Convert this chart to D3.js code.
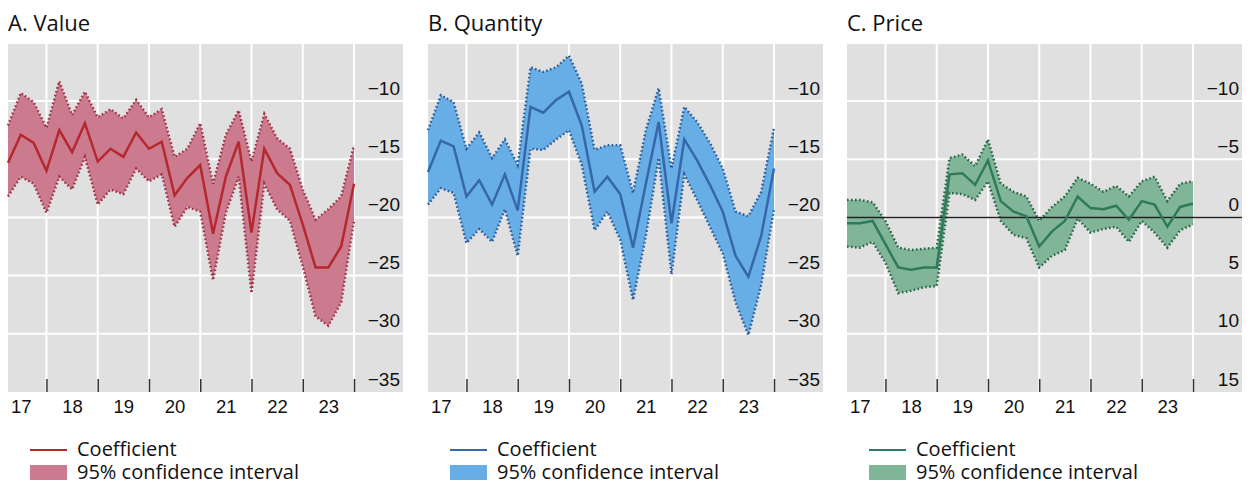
<!DOCTYPE html>
<html>
<head>
<meta charset="utf-8">
<script src="https://cdn.jsdelivr.net/npm/d3@7"></script>
<style>
    body { margin: 0; background: #fff; }
    svg { font-family: 'Open Sans', 'Noto Sans', sans-serif; }
</style>
</head>
<body>
<svg width="1252" height="484"></svg>
<script>
var quarters = ['2017Q1', '2017Q2', '2017Q3', '2017Q4', '2018Q1', '2018Q2', '2018Q3', '2018Q4',
    '2019Q1', '2019Q2', '2019Q3', '2019Q4', '2020Q1', '2020Q2', '2020Q3', '2020Q4',
    '2021Q1', '2021Q2', '2021Q3', '2021Q4', '2022Q1', '2022Q2', '2022Q3', '2022Q4',
    '2023Q1', '2023Q2', '2023Q3', '2023Q4'];
var yearLabels = ['17', '18', '19', '20', '21', '22', '23'];
var yearBreaks = [2018, 2019, 2020, 2021, 2022, 2023, 2024];

var valueCoef = [-15.3, -12.9, -13.6, -16.0, -12.5, -14.4, -11.9, -15.2, -14.1, -14.8, -12.7, -14.1, -13.5, -18.1,
    -16.6, -15.5, -21.4, -16.5, -13.5, -21.3, -14.1, -16.2, -17.2, -20.6, -24.3, -24.3, -22.5, -17.1];
var valueUpper = [-12.1, -9.3, -10.1, -12.3, -8.3, -11.2, -9.2, -11.4, -10.7, -11.5, -9.9, -11.4, -10.7, -14.8,
    -14.1, -11.9, -17.1, -12.9, -10.8, -15.2, -11.1, -13.2, -14.1, -17.6, -20.2, -19.3, -18.2, -13.8];
var valueLower = [-18.2, -16.5, -17.1, -19.6, -16.5, -17.6, -14.8, -18.9, -17.6, -18.0, -15.8, -16.9, -16.3, -20.8,
    -19.1, -19.5, -25.4, -19.6, -16.5, -26.5, -17.1, -19.3, -20.3, -24.2, -28.5, -29.3, -27.3, -20.3];

var quantityCoef = [-16.1, -13.4, -13.9, -18.2, -16.8, -18.9, -16.3, -19.4, -10.5, -11.0, -9.9, -9.2, -12.1, -17.8,
    -16.5, -18.0, -22.6, -17.1, -11.8, -20.5, -13.3, -15.1, -17.2, -19.5, -23.3, -25.1, -21.6, -15.8];
var quantityUpper = [-12.5, -9.5, -10.1, -14.1, -12.7, -14.9, -13.3, -15.5, -7.1, -7.5, -7.1, -6.1, -8.5, -14.2,
    -13.8, -13.8, -17.9, -12.5, -8.9, -15.8, -10.5, -11.8, -13.6, -15.8, -19.5, -19.9, -17.8, -12.3];
var quantityLower = [-18.9, -17.5, -17.9, -22.2, -21.0, -22.1, -19.3, -23.3, -14.1, -14.2, -13.3, -12.5, -15.5, -21.1,
    -19.5, -21.9, -27.1, -21.6, -14.9, -24.9, -16.3, -18.5, -20.8, -23.1, -27.3, -30.1, -25.8, -19.3];

var priceCoef = [0.5, 0.5, 0.3, 2.3, 4.3, 4.5, 4.3, 4.3, -3.7, -3.8, -2.8, -4.9, -1.4, -0.5,
    -0.1, 2.5, 1.2, 0.3, -1.8, -0.8, -0.7, -1.0, 0.2, -1.4, -1.1, 0.8, -0.9, -1.2];
var priceUpper = [-1.5, -1.5, -1.3, 0.3, 2.6, 2.8, 2.7, 2.6, -5.1, -5.4, -4.4, -6.7, -2.9, -2.2,
    -1.8, 0.3, -0.9, -1.8, -3.4, -2.9, -2.2, -2.7, -1.8, -3.1, -3.5, -1.4, -2.9, -3.1];
var priceLower = [2.5, 2.6, 2.1, 3.9, 6.5, 6.3, 6.0, 5.9, -2.1, -2.0, -1.5, -3.1, 0.3, 1.5,
    1.8, 4.3, 3.3, 2.8, 0.1, 1.3, 1.0, 0.8, 2.1, 0.3, 1.3, 2.6, 1.1, 0.6];

var ticksValue = [-10, -15, -20, -25, -30, -35];
var ticksPrice = [-10, -5, 0, 5, 10, 15];

var svg = d3.select('svg'),
    plotTop = 44,
    plotBottom = 392,
    plotWidth = 395;

function quarterEnd(q) {
    return +q.slice(0, 4) + (+q.slice(5)) / 4;
}

function Panel(left, title, coef, upper, lower, yDomain, yTicks, colors, zeroLine) {
    var g = svg.append('g').attr('transform', 'translate(' + left + ',0)'),
        x = d3.scaleLinear().domain([2017.25, 2024.956]).range([0, plotWidth]),
        y = d3.scaleLinear().domain(yDomain).range([plotBottom, plotTop]),
        rows = quarters.map(function (q, i) {
            return { t: quarterEnd(q), c: coef[i], u: upper[i], l: lower[i] };
        });

    g.append('rect')
        .attr('x', 0)
        .attr('y', plotTop)
        .attr('width', plotWidth)
        .attr('height', plotBottom - plotTop)
        .attr('fill', '#e0e0e0');

    g.selectAll('.hgrid')
        .data(yTicks.filter(function (v) { return Math.abs(y(v) - plotBottom) > 2; }))
        .enter().append('line')
        .attr('x1', 0)
        .attr('x2', plotWidth)
        .attr('y1', function (d) { return y(d); })
        .attr('y2', function (d) { return y(d); })
        .attr('stroke', '#fff')
        .attr('stroke-width', 2);

    g.selectAll('.vgrid')
        .data(yearBreaks)
        .enter().append('line')
        .attr('x1', function (d) { return x(d); })
        .attr('x2', function (d) { return x(d); })
        .attr('y1', plotTop)
        .attr('y2', plotBottom)
        .attr('stroke', '#fff')
        .attr('stroke-width', 2);

    g.append('path')
        .datum(rows)
        .attr('fill', colors.fill)
        .attr('d', d3.area()
            .x(function (d) { return x(d.t); })
            .y0(function (d) { return y(d.l); })
            .y1(function (d) { return y(d.u); }));

    ['u', 'l'].forEach(function (key) {
        g.append('path')
            .datum(rows)
            .attr('fill', 'none')
            .attr('stroke', colors.dots)
            .attr('stroke-width', 2.5)
            .attr('stroke-dasharray', '1.6,2.4')
            .attr('d', d3.line()
                .x(function (d) { return x(d.t); })
                .y(function (d) { return y(d[key]); }));
    });

    if (zeroLine) {
        g.append('line')
            .attr('x1', 0)
            .attr('x2', plotWidth)
            .attr('y1', y(0))
            .attr('y2', y(0))
            .attr('stroke', '#222')
            .attr('stroke-width', 1.5);
    }

    g.append('path')
        .datum(rows)
        .attr('fill', 'none')
        .attr('stroke', colors.line)
        .attr('stroke-width', 2.5)
        .attr('d', d3.line()
            .x(function (d) { return x(d.t); })
            .y(function (d) { return y(d.c); }));

    // year break ticks along the bottom
    g.append('g')
        .attr('transform', 'translate(0,' + plotBottom + ')')
        .call(d3.axisBottom(x).tickValues(yearBreaks).tickSize(-13).tickFormat(''))
        .call(function (a) {
            a.select('.domain').remove();
            a.selectAll('line').attr('stroke', '#333').attr('stroke-width', 1.5);
        });

    // year labels centred in each year
    g.append('g')
        .attr('transform', 'translate(0,' + plotBottom + ')')
        .call(d3.axisBottom(x)
            .tickValues(yearBreaks.map(function (b) { return b - 0.5; }))
            .tickSize(0)
            .tickPadding(8)
            .tickFormat(function (d, i) { return yearLabels[i]; }))
        .call(function (a) {
            a.select('.domain').remove();
            a.selectAll('text')
                .attr('font-size', 18.5)
                .attr('fill', '#111')
                .attr('font-family', null);
        });

    g.append('g')
        .attr('transform', 'translate(' + (plotWidth - 3) + ',0)')
        .call(d3.axisLeft(y).tickValues(yTicks).tickSize(0).tickPadding(0)
            .tickFormat(function (d) { return d < 0 ? '\u2212' + Math.abs(d) : d; }))
        .call(function (a) {
            a.select('.domain').remove();
            a.selectAll('text')
                .attr('font-size', 19)
                .attr('fill', '#111')
                .attr('font-family', null)
                .attr('dy', -7);
        });

    g.append('text')
        .attr('x', 0)
        .attr('y', 31)
        .attr('font-size', 22)
        .attr('fill', '#111')
        .text(title);

    g.append('line')
        .attr('x1', 22)
        .attr('x2', 59)
        .attr('y1', 450)
        .attr('y2', 450)
        .attr('stroke', colors.line)
        .attr('stroke-width', 2);

    g.append('text')
        .attr('x', 69)
        .attr('y', 456)
        .attr('font-size', 20)
        .attr('fill', '#111')
        .text('Coefficient');

    g.append('rect')
        .attr('x', 22)
        .attr('y', 465)
        .attr('width', 37)
        .attr('height', 15)
        .attr('fill', colors.fill);

    g.append('text')
        .attr('x', 69)
        .attr('y', 479)
        .attr('font-size', 20)
        .attr('fill', '#111')
        .text('95% confidence interval');
}

Panel(8, 'A. Value', valueCoef, valueUpper, valueLower, [-35, -5.1], ticksValue,
    { fill: '#cc7b8f', line: '#b5282f', dots: '#9e3346' }, false);
Panel(428, 'B. Quantity', quantityCoef, quantityUpper, quantityLower, [-35, -5.1], ticksValue,
    { fill: '#68aee6', line: '#3567aa', dots: '#2d5b96' }, false);
Panel(847, 'C. Price', priceCoef, priceUpper, priceLower, [15, -14.9], ticksPrice,
    { fill: '#80b598', line: '#2e7a5a', dots: '#2a6447' }, true);
</script>
</body>
</html>
